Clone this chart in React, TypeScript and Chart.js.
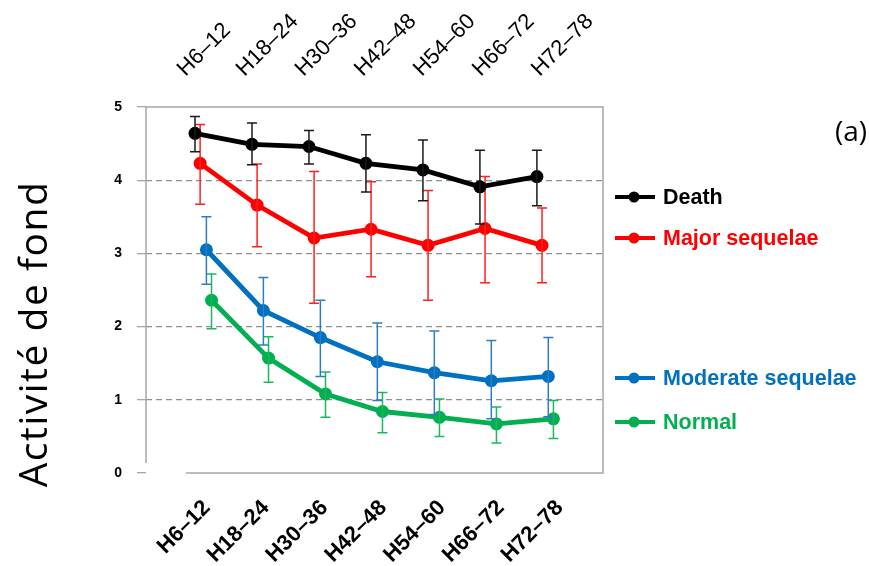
import React, { useEffect, useRef } from "react";
import { Chart, registerables } from "chart.js";

Chart.register(...registerables);

// ---- data ----
const categories = ["H6–12", "H18–24", "H30–36", "H42–48", "H54–60", "H66–72", "H72–78"];
const seriesNames = ["Death", "Major sequelae", "Moderate sequelae", "Normal"];
const yTicks = [0, 1, 2, 3, 4, 5];

const deathMean = [4.64, 4.49, 4.46, 4.23, 4.14, 3.91, 4.05];
const deathLow = [4.39, 4.21, 4.22, 3.84, 3.72, 3.4, 3.65];
const deathHigh = [4.87, 4.78, 4.68, 4.62, 4.55, 4.41, 4.41];

const majorMean = [4.23, 3.66, 3.21, 3.33, 3.11, 3.34, 3.11];
const majorLow = [3.67, 3.09, 2.32, 2.68, 2.36, 2.6, 2.6];
const majorHigh = [4.76, 4.22, 4.12, 3.98, 3.86, 4.05, 3.62];

const moderateMean = [3.05, 2.22, 1.85, 1.52, 1.37, 1.26, 1.32];
const moderateLow = [2.58, 1.75, 1.32, 0.99, 0.8, 0.74, 0.77];
const moderateHigh = [3.5, 2.67, 2.36, 2.05, 1.94, 1.81, 1.85];

const normalMean = [2.36, 1.57, 1.08, 0.84, 0.76, 0.67, 0.74];
const normalLow = [1.97, 1.24, 0.76, 0.55, 0.5, 0.41, 0.47];
const normalHigh = [2.72, 1.86, 1.38, 1.1, 1.01, 0.9, 0.99];

const yTitle = "Activité de fond";
const panelLabel = "(a)";

// ---- styles ----
const colors = ["#000000", "#FF0000", "#0070C0", "#00B050"];
const errColors = ["#1a1a1a", "#FF2020", "#2E7CC8", "#1DB85C"];
const xJitter = [0, 0.09, 0.2, 0.29];
const legendY = [197, 238, 378, 422];

const means = [deathMean, majorMean, moderateMean, normalMean];
const lows = [deathLow, majorLow, moderateLow, normalLow];
const highs = [deathHigh, majorHigh, moderateHigh, normalHigh];

const errorBarPlugin = {
  id: "errorBars",
  afterDatasetDraw(chart: any, args: any) {
    const i = args.index;
    const ds = chart.data.datasets[i] as any;
    const xs = chart.scales.x;
    const ys = chart.scales.y;
    const ctx = chart.ctx;
    ctx.save();
    ctx.strokeStyle = ds.errColor;
    ctx.lineWidth = 1.5;
    ds.errLow.forEach((lo: number, j: number) => {
      const hi = ds.errHigh[j];
      const px = xs.getPixelForValue(j + ds.jitter);
      const y1 = ys.getPixelForValue(lo);
      const y2 = ys.getPixelForValue(hi);
      ctx.beginPath();
      ctx.moveTo(px, y1);
      ctx.lineTo(px, y2);
      ctx.moveTo(px - 5, y1);
      ctx.lineTo(px + 5, y1);
      ctx.moveTo(px - 5, y2);
      ctx.lineTo(px + 5, y2);
      ctx.stroke();
    });
    ctx.restore();
  },
};

const framePlugin = {
  id: "frame",
  beforeDatasetsDraw(chart: any) {
    const { ctx, chartArea: a } = chart;
    ctx.save();
    ctx.strokeStyle = "#a6a6a6";
    ctx.lineWidth = 1.5;
    ctx.beginPath();
    ctx.moveTo(a.left, a.bottom - 10);
    ctx.lineTo(a.left, a.top);
    ctx.lineTo(a.right, a.top);
    ctx.lineTo(a.right, a.bottom);
    ctx.lineTo(a.left + 40, a.bottom);
    ctx.stroke();
    ctx.restore();
  },
};

const decorPlugin = {
  id: "decor",
  afterDraw(chart: any) {
    const ctx = chart.ctx;
    ctx.save();
    // y title
    ctx.translate(35.5, 334);
    ctx.rotate(-Math.PI / 2);
    ctx.fillStyle = "#000";
    ctx.font = '39px "Open Sans"';
    try {
      (ctx as any).letterSpacing = "1.5px";
    } catch (e) {}
    ctx.textAlign = "center";
    ctx.textBaseline = "middle";
    ctx.fillText(yTitle, 0, 0);
    ctx.restore();

    ctx.save();
    ctx.fillStyle = "#000";
    ctx.font = '28px "Open Sans"';
    ctx.textAlign = "center";
    ctx.textBaseline = "middle";
    ctx.fillText(panelLabel, 851, 133);
    ctx.restore();

    // legend
    ctx.save();
    seriesNames.forEach((name, i) => {
      const y = legendY[i];
      ctx.strokeStyle = colors[i];
      ctx.lineWidth = 4;
      ctx.beginPath();
      ctx.moveTo(615, y);
      ctx.lineTo(655, y);
      ctx.stroke();
      ctx.fillStyle = colors[i];
      ctx.beginPath();
      ctx.arc(634, y, 5.5, 0, Math.PI * 2);
      ctx.fill();
      ctx.font = 'bold 21.5px "Liberation Sans", Arial, sans-serif';
      ctx.textAlign = "left";
      ctx.textBaseline = "middle";
      ctx.fillText(name, 663, y + 1);
    });
    ctx.restore();
  },
};

export default function App() {
  const ref = useRef<HTMLCanvasElement | null>(null);

  useEffect(() => {
    if (!ref.current) return;
    const datasets = seriesNames.map((name, i) => ({
      label: name,
      data: means[i].map((v, j) => ({ x: j + xJitter[i], y: v })),
      borderColor: colors[i],
      backgroundColor: colors[i],
      pointBackgroundColor: colors[i],
      pointBorderColor: colors[i],
      borderWidth: 4.8,
      pointRadius: 6.5,
      pointBorderWidth: 0,
      tension: 0,
      errLow: lows[i],
      errHigh: highs[i],
      errColor: errColors[i],
      jitter: xJitter[i],
    }));

    const chart = new Chart(ref.current, {
      type: "line",
      data: { datasets: datasets as any },
      plugins: [framePlugin, errorBarPlugin, decorPlugin],
      options: {
        animation: false,
        responsive: false,
        events: [],
        layout: { padding: { left: 0, right: 266, top: 0, bottom: 0 } },
        plugins: { legend: { display: false }, tooltip: { enabled: false } },
        scales: {
          x: {
            type: "linear",
            display: false,
            min: -0.86,
            max: 7.16,
          },
          xBottom: {
            type: "linear",
            position: "bottom",
            min: -1.037,
            max: 6.735,
            afterBuildTicks: (s: any) => {
              s.ticks = categories.map((_, i) => ({ value: i }));
            },
            afterFit: (s: any) => {
              s.height = 93;
            },
            grid: { display: false, drawTicks: false },
            border: { display: false },
            ticks: {
              autoSkip: false,
              minRotation: 45,
              maxRotation: 45,
              padding: 22,
              color: "#000",
              font: { family: '"Liberation Sans", Arial, sans-serif', size: 22, weight: "bold" },
              callback: (_v: any, i: number) => categories[i],
            },
          },
          xTop: {
            type: "linear",
            position: "top",
            min: -0.915,
            max: 6.83,
            afterBuildTicks: (s: any) => {
              s.ticks = categories.map((_, i) => ({ value: i }));
            },
            afterFit: (s: any) => {
              s.height = 107;
            },
            grid: { display: false, drawTicks: false },
            border: { display: false },
            ticks: {
              autoSkip: false,
              minRotation: 45,
              maxRotation: 45,
              padding: 25,
              color: "#000",
              font: { family: '"Liberation Sans", Arial, sans-serif', size: 22 },
              callback: (_v: any, i: number) => categories[i],
            },
          },
          y: {
            type: "linear",
            position: "left",
            min: 0,
            max: 5,
            afterBuildTicks: (s: any) => {
              s.ticks = yTicks.map((v) => ({ value: v }));
            },
            afterFit: (s: any) => {
              s.width = 146;
            },
            grid: {
              color: (c: any) =>
                c.tick && c.tick.value > 0 && c.tick.value < 5 ? "#8f8f8f" : "rgba(0,0,0,0)",
              lineWidth: 1.3,
              tickColor: "#a6a6a6",
              tickLength: 9,
              tickWidth: 1.3,
              tickBorderDash: [],
            },
            border: { display: false, dash: [6, 4] },
            ticks: {
              padding: 15,
              color: "#000",
              font: { family: '"Liberation Sans", Arial, sans-serif', size: 14, weight: "bold" },
              callback: (v: any) => String(v),
            },
          },
        },
      } as any,
    });
    return () => chart.destroy();
  }, []);

  return (
    <div style={{ position: "fixed", left: 0, top: 0, width: 869, height: 566, background: "#fff" }}>
      <canvas ref={ref} width={869} height={566} />
    </div>
  );
}
